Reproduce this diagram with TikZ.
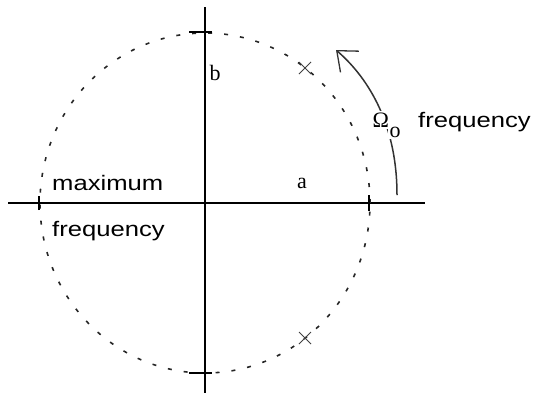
\documentclass[tikz,border=0pt]{standalone}
\usepackage{fontspec}
\setmainfont{Liberation Serif}
\newfontfamily\lblsans[FakeStretch=1.22]{Liberation Sans}
\usetikzlibrary{arrows.meta,positioning,shapes.misc}

\begin{document}
\begin{tikzpicture}[x=1bp, y=-1bp,
  axis/.style={line width=1.5bp},
  tick/.style={line width=1.8bp},
  circ/.style={line width=1.6bp, dash pattern=on 4bp off 12bp, black!85},
  zero/.style={cross out, draw, line width=1bp, minimum size=11bp, inner sep=0pt, black!75},
  rot/.style={line width=1.5bp, black!80, -{Straight Barb[length=17bp,width=28bp,line width=1.3bp]}},
  sans/.style={font=\lblsans\fontsize{21bp}{24bp}\selectfont, inner sep=0pt},
  serif/.style={font=\fontsize{22bp}{26bp}\selectfont, inner sep=0pt}
]
\useasboundingbox (0,0) rectangle (537,395);
\coordinate (O) at (205,203);
\coordinate (west) at (8,203);
\coordinate (east) at (425,203);
\coordinate (north) at (205,7);
\coordinate (south) at (205,393);
\coordinate (ctop) at (201,32);
\coordinate (cbot) at (201,373);
\coordinate (cleft) at (39,203);
\coordinate (cright) at (369,203);

% axes
\draw[axis] (west) -- (east);
\draw[axis] (north) -- (south);

% circle and its crossings
\draw[circ] (O) ellipse [x radius=165bp, y radius=170bp];
\draw[tick] ([xshift=-12bp]ctop) -- ([xshift=11bp]ctop);
\draw[tick] ([xshift=-12bp]cbot) -- ([xshift=11bp]cbot);
\draw[tick] ([yshift=-7bp]cleft) -- ([yshift=7bp]cleft);
\draw[tick] ([yshift=-8bp]cright) -- ([yshift=8bp]cright);

% zeros
\node[zero] (zup) at (305,68) {};
\node[zero] (zdn) at (305,338) {};

% rotation
\coordinate (wfrom) at (397,195);
\coordinate (wto) at (336,50);
\draw[rot] (wfrom) .. controls (397,120) and (365,75) .. (wto);

% labels
\node[serif, anchor=base] (alab) at (302,188) {a};
\node[serif, anchor=base] (blab) at (215,80) {b};
\node[sans, anchor=base west] (maxlab) at (52,190) {maximum};
\node[sans, anchor=base west] (freqlab) at (52,236) {frequency};
\node[anchor=base west, fill=white, inner sep=1.5bp, font=\fontsize{22bp}{26bp}\selectfont] (omega) at (371,127) {Ω};
\node[anchor=base west, fill=white, inner sep=1.5bp, font=\fontsize{22bp}{26bp}\selectfont] (osub) at (388,137) {o};
\node[sans, anchor=base west] (wfreq) at (418,127) {frequency};
\end{tikzpicture}
\end{document}
